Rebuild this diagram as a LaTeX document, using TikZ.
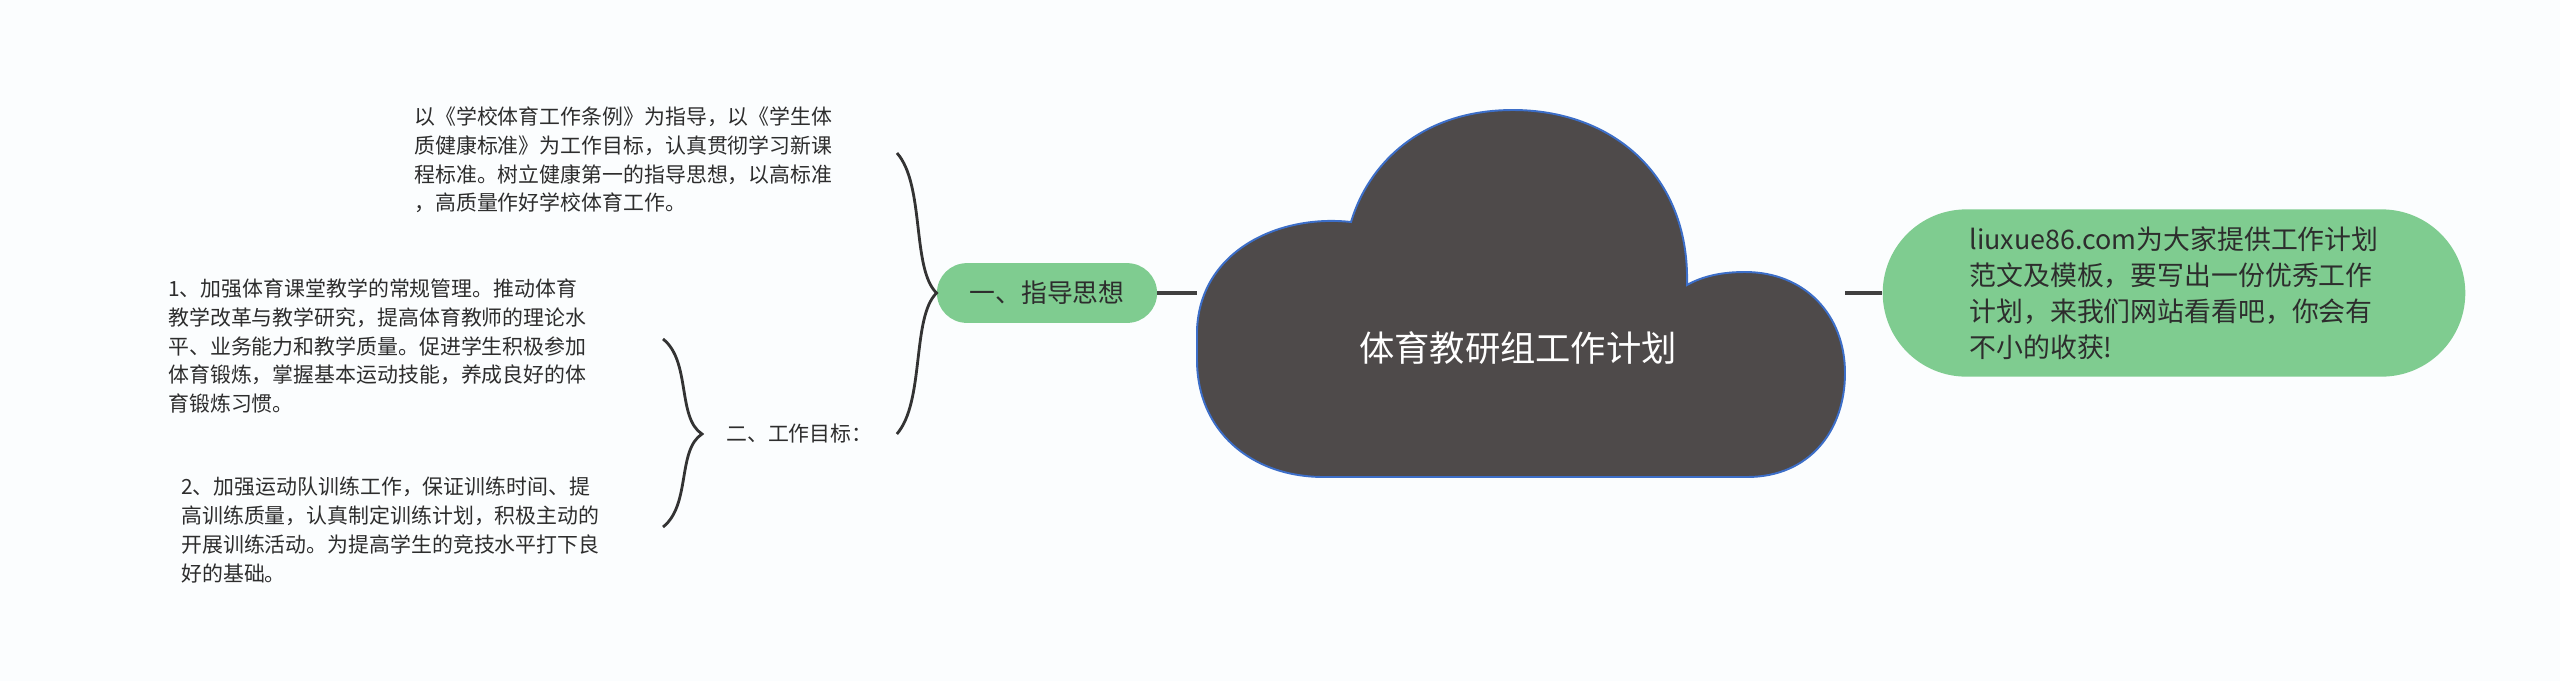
\documentclass[tikz,border=0pt]{standalone}
\usepackage{fontspec}
\setmainfont{Noto Sans CJK SC}
\usepackage{xcolor}
\usepackage{tikz}
\usetikzlibrary{positioning,calc}
\definecolor{cloudfill}{RGB}{78,74,74}
\definecolor{cloudline}{RGB}{60,110,200}
\definecolor{pillgreen}{RGB}{127,204,144}
\definecolor{linkgray}{RGB}{64,64,64}
\definecolor{txt}{RGB}{45,45,45}
\definecolor{bg}{RGB}{251,253,254}

\begin{document}
\begin{tikzpicture}[x=0.02cm, y=-0.02cm,
    leaf/.style={anchor=west, inner sep=0pt, align=left, text=txt, font=\fontsize{11.9}{16.4}\selectfont},
    pill/.style={fill=pillgreen, rounded corners=17pt, minimum width=125.3pt, minimum height=34pt, text=txt, font=\fontsize{14.7}{18}\selectfont},
    link/.style={draw=linkgray, line width=2.3pt},
    brace/.style={draw=black!80, line width=1.6pt}]
    \fill[bg] (0,0) rectangle (2560,681);
    \useasboundingbox (0,0) rectangle (2560,681);

    \draw[fill=cloudfill, draw=cloudline, line width=1.1pt] (1324,477) -- (1747,477)
        .. controls (1810,477) and (1845,430) .. (1845,373)
        .. controls (1845,315) and (1805,272) .. (1745,272)
        .. controls (1722,272) and (1703,276) .. (1687,285)
        .. controls (1690,175) and (1612,110) .. (1513,110)
        .. controls (1420,110) and (1368,165) .. (1351,222)
        .. controls (1280,214) and (1200,250) .. (1197,330)
        -- (1197,360)
        .. controls (1197,430) and (1250,477) .. (1324,477) -- cycle;
    \node[text=white, font=\fontsize{20.1}{24}\selectfont] (root) at (1518,348) {体育教研组工作计划};
    \coordinate (cloudL) at (1197,293);
    \coordinate (cloudR) at (1845,293);

    \node[pill] (g1) at (1047,293) {一、指导思想};
    \node[pill, minimum width=331.6pt, minimum height=95.2pt, rounded corners=47.6pt, align=left,
        font=\fontsize{15.3}{20.4}\selectfont] (tip) at (2174,293)
        {liuxue86.com为大家提供工作计划\\范文及模板，要写出一份优秀工作\\计划，来我们网站看看吧，你会有\\不小的收获!};
    \draw[link] (g1.east) -- (cloudL);
    \draw[link] (cloudR) -- (tip.west);

    \node[leaf] (guide) at (414,160) {以《学校体育工作条例》为指导，以《学生体\\质健康标准》为工作目标，认真贯彻学习新课\\程标准。树立健康第一的指导思想，以高标准\\，高质量作好学校体育工作。};
    \node[leaf, inner xsep=13.6pt] (goal) at (702,434) {二、工作目标：};
    \node[leaf] (goal1) at (168,346) {1、加强体育课堂教学的常规管理。推动体育\\教学改革与教学研究，提高体育教师的理论水\\平、业务能力和教学质量。促进学生积极参加\\体育锻炼，掌握基本运动技能，养成良好的体\\育锻炼习惯。};
    \node[leaf] (goal2) at (181,530) {2、加强运动队训练工作，保证训练时间、提\\高训练质量，认真制定训练计划，积极主动的\\开展训练活动。为提高学生的竞技水平打下良\\好的基础。};

    \coordinate (b1top) at (897,153);
    \coordinate (b2top) at (663,339);
    \coordinate (b2bot) at (663,527);
    \draw[brace] (b1top) .. controls +(28,32) and +(-25,-24) .. (g1.west)
        .. controls +(-25,24) and +(28,-32) .. (goal.east);
    \draw[brace] (b2top) .. controls +(28,22) and +(-25,-16) .. (goal.west)
        .. controls +(-25,16) and +(28,-22) .. (b2bot);
\end{tikzpicture}
\end{document}
